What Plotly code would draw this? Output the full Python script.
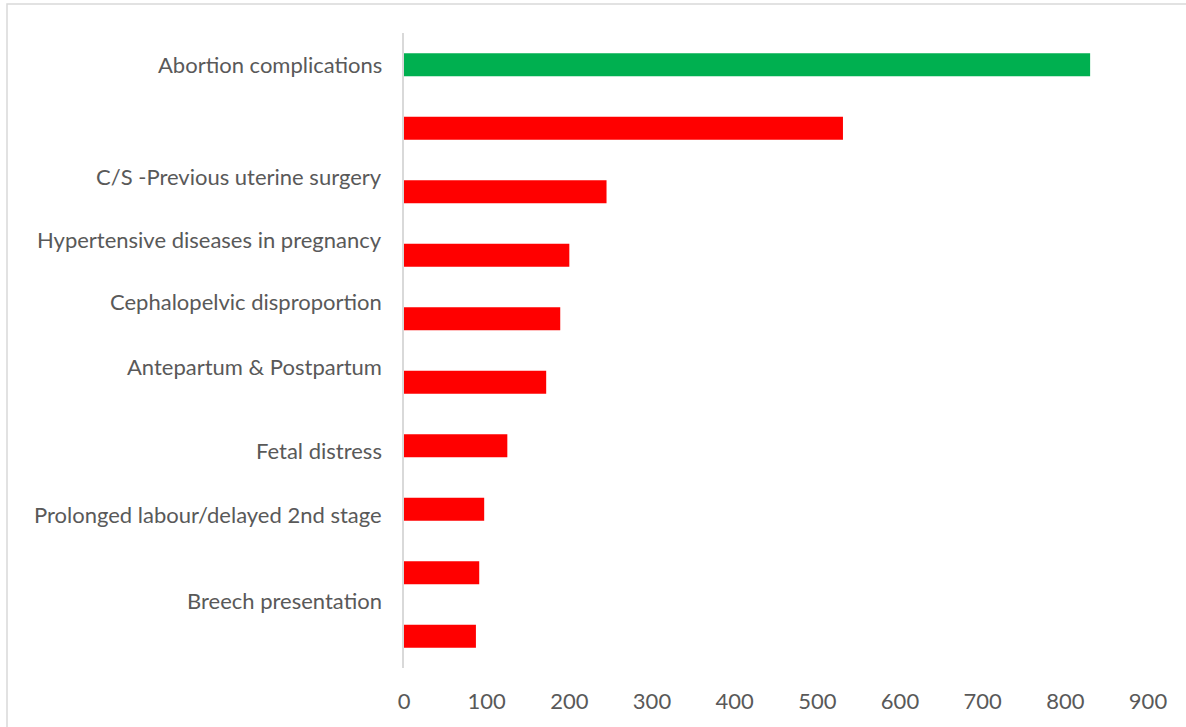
import plotly.graph_objects as go

# Causes, top to bottom, with case counts
causes = [
    "Abortion complications",
    "",
    "C/S -Previous uterine surgery",
    "Hypertensive diseases in pregnancy",
    "Cephalopelvic disproportion",
    "Antepartum & Postpartum",
    "Fetal distress",
    "Prolonged labour/delayed 2nd stage",
    "Breech presentation",
    "",
]
cases = [830, 531, 245, 200, 189, 172, 125, 97, 91, 87]
bar_colors = ["#00b050"] + ["#ff0000"] * 9
x_ticks = [0, 100, 200, 300, 400, 500, 600, 700, 800, 900]

# vertical nudge of each category label, in category units
label_shift = [0.0, 0.0, -0.24, -0.25, -0.27, -0.25, 0.08, 0.08, 0.44, 0.0]

positions = list(range(len(cases)))

fig = go.Figure(
    go.Bar(
        x=cases,
        y=positions,
        orientation="h",
        marker=dict(color=bar_colors, line=dict(width=0)),
        width=0.36,
        hoverinfo="x",
    )
)

text_font = dict(family="Lato, 'Open Sans', sans-serif", size=22, color="#595959")

for pos, name, shift in zip(positions, causes, label_shift):
    if not name:
        continue
    fig.add_annotation(
        x=0, xref="paper", xanchor="right", xshift=-20,
        y=pos + shift, yref="y", yanchor="middle",
        text=name, showarrow=False, font=text_font,
    )

# outer chart frame
fig.add_shape(
    type="rect", xref="paper", yref="paper",
    x0=-0.5336, x1=1.06, y0=-0.1, y1=1.0457,
    line=dict(color="#d9d9d9", width=1.5), fillcolor="rgba(0,0,0,0)",
    layer="below",
)

fig.update_layout(
    width=1186, height=727,
    margin=dict(l=404, r=38, t=33, b=59),
    paper_bgcolor="white", plot_bgcolor="white",
    showlegend=False,
    font=text_font,
    xaxis=dict(
        range=[0, 900], tickvals=x_ticks, ticktext=[str(v) for v in x_ticks],
        showgrid=False, zeroline=False, showline=False, ticks="",
        tickfont=dict(family="Lato, 'Open Sans', sans-serif", size=22, color="#595959"),
        ticklabelstandoff=18,
    ),
    yaxis=dict(
        range=[9.5, -0.5], showticklabels=False, showgrid=False, zeroline=False,
        showline=True, linecolor="#d9d9d9", linewidth=1.5, ticks="",
    ),
)

fig.write_html("out.html")
